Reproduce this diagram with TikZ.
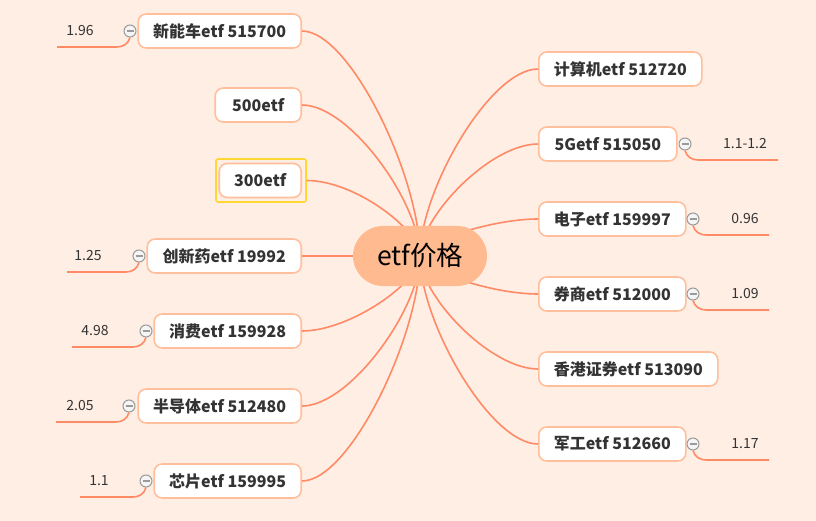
\documentclass[tikz,border=0pt]{standalone}
\usepackage{fontspec}
\usetikzlibrary{calc}
\setmainfont{Noto Sans CJK SC}
\definecolor{bgc}{HTML}{FFEEE4}
\definecolor{connc}{HTML}{FF8A66}
\definecolor{borderc}{HTML}{FFBF9C}
\definecolor{rootc}{HTML}{FFBA8F}
\definecolor{selc}{HTML}{FFD633}
\definecolor{txtc}{HTML}{333333}
\definecolor{circc}{HTML}{9A9A9A}
\begin{document}
\begin{tikzpicture}[x=1pt,y=-1pt,
  leaf/.style={draw=borderc, line width=1.6pt, fill=white, rounded corners=8pt,
    minimum height=34pt, inner sep=0pt, text=txtc,
    font=\bfseries\fontsize{16}{19}\selectfont},
  rootnode/.style={fill=rootc, rounded corners=30pt, minimum width=134pt,
    minimum height=60pt, inner sep=0pt, font=\fontsize{26.5}{31}\selectfont, text=black},
  conn/.style={draw=connc, line width=1.6pt},
  collapse/.style={circle, draw=circc, fill=white!92!gray, line width=1pt,
    minimum size=12pt, inner sep=0pt,
    path picture={\draw[circc, line width=1.3pt]
      ([xshift=2.5pt]path picture bounding box.west) --
      ([xshift=-2.5pt]path picture bounding box.east);}},
  val/.style={text=txtc, font=\fontsize{14}{16}\selectfont, inner sep=0pt},
  selbox/.style={draw=selc, line width=1.6pt, rounded corners=2pt,
    minimum width=90pt, minimum height=43pt, inner sep=0pt}
]
\useasboundingbox (0,0) rectangle (816,521);
\fill[bgc] (0,0) rectangle (816,521);
\coordinate (rc) at (420,256);

% left nodes
\node[leaf, minimum width=163pt, anchor=east] (n1) at (302,31) {新能车etf 515700};
\node[leaf, minimum width=86pt, anchor=east] (n2) at (302,105) {500etf};
\node[selbox] (sel) at (261,180.5) {};
\node[leaf, minimum width=82pt, anchor=east] (n3) at (302,180.5) {300etf};
\node[leaf, minimum width=154pt, anchor=east] (n4) at (302,256) {创新药etf 19992};
\node[leaf, minimum width=147pt, anchor=east] (n5) at (302,331) {消费etf 159928};
\node[leaf, minimum width=163pt, anchor=east] (n6) at (302,406) {半导体etf 512480};
\node[leaf, minimum width=147pt, anchor=east] (n7) at (302,481) {芯片etf 159995};

% right nodes
\node[leaf, minimum width=163pt, anchor=west] (m1) at (538,69) {计算机etf 512720};
\node[leaf, minimum width=138pt, anchor=west] (m2) at (538,144) {5Getf 515050};
\node[leaf, minimum width=147pt, anchor=west] (m3) at (538,219) {电子etf 159997};
\node[leaf, minimum width=147pt, anchor=west] (m4) at (538,294) {券商etf 512000};
\node[leaf, minimum width=179pt, anchor=west] (m5) at (538,369) {香港证券etf 513090};
\node[leaf, minimum width=147pt, anchor=west] (m6) at (538,444) {军工etf 512660};

% collapse circles
\node[collapse] (c1) at (130,31) {};
\node[collapse] (c4) at (139,256) {};
\node[collapse] (c5) at (146,331) {};
\node[collapse] (c6) at (129,406) {};
\node[collapse] (c7) at (146,481) {};
\node[collapse] (d2) at (685,144) {};
\node[collapse] (d3) at (693,219) {};
\node[collapse] (d4) at (693,294) {};
\node[collapse] (d6) at (693,444) {};

% values
\node[val] (v1) at (80,31) {1.96};
\node[val] (v4) at (88,256) {1.25};
\node[val] (v5) at (95,331) {4.98};
\node[val] (v6) at (80,406) {2.05};
\node[val] (v7) at (99,481) {1.1};
\node[val] (w2) at (745,144) {1.1-1.2};
\node[val] (w3) at (745,219) {0.96};
\node[val] (w4) at (745,294) {1.09};
\node[val] (w6) at (745,444) {1.17};

% underline coordinates
\coordinate (k1) at (117,47);  \coordinate (u1) at (57,47);
\coordinate (k4) at (126,272); \coordinate (u4) at (67,272);
\coordinate (k5) at (133,347); \coordinate (u5) at (72,347);
\coordinate (k6) at (116,422); \coordinate (u6) at (56,422);
\coordinate (k7) at (133,497); \coordinate (u7) at (80,497);
\coordinate (j2) at (698,160); \coordinate (t2) at (778,160);
\coordinate (j3) at (706,235); \coordinate (t3) at (769,235);
\coordinate (j4) at (706,310); \coordinate (t4) at (769,310);
\coordinate (j6) at (706,460); \coordinate (t6) at (769,460);

% value connectors
\foreach \c/\k/\u in {c1/k1/u1, c4/k4/u4, c5/k5/u5, c6/k6/u6, c7/k7/u7}{
  \draw[conn] (\c.south) to[out=-105, in=0] (\k) -- (\u);
}
\foreach \c/\k/\u in {d2/j2/t2, d3/j3/t3, d4/j4/t4, d6/j6/t6}{
  \draw[conn] (\c.south) to[out=-75, in=180] (\k) -- (\u);
}

% main connectors
\foreach \n in {n1,n2,n5,n6,n7}{
  \draw[conn] (\n.east) .. controls +(48,0) and ($(\n.east -| rc)!0.65!(rc)$) .. (rc);
}
\draw[conn] (n4.east) -- (rc);
\draw[conn] (sel.east) .. controls +(48,0) and ($(sel.east -| rc)!0.65!(rc)$) .. (rc);
\foreach \n in {m1,m2,m3,m4,m5,m6}{
  \draw[conn] (\n.west) .. controls +(-48,0) and ($(\n.west -| rc)!0.65!(rc)$) .. (rc);
}

% root
\node[rootnode] (root) at (rc) {etf价格};
\end{tikzpicture}
\end{document}
